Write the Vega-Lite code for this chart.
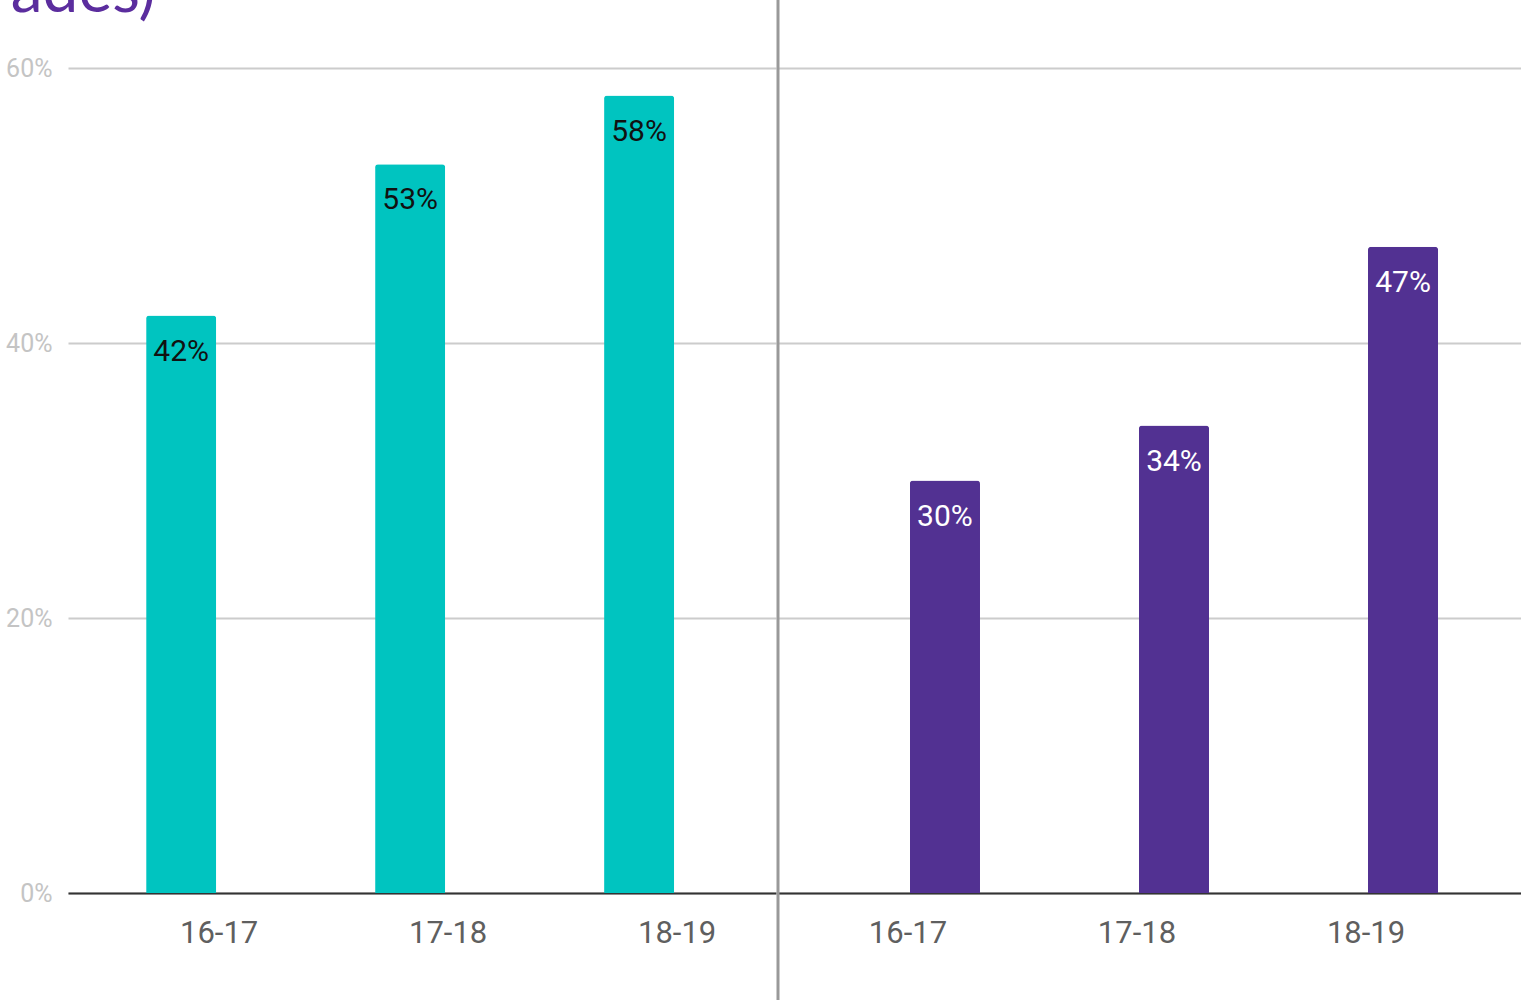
{
  "$schema": "https://vega.github.io/schema/vega-lite/v6.json",
  "padding": {"left": 5, "top": -40, "right": 0, "bottom": 0},
  "background": "white",
  "title": {"text": "ades)", "anchor": "start", "align": "right", "dx": 150, "fontSize": 64, "font": "Lato", "fontWeight": "normal", "color": "#5B2D9E", "offset": -41},
  "config": {
    "view": {"stroke": null},
    "font": "Roboto",
    "axis": {"gridColor": "#CCCCCC", "gridWidth": 2, "labelFont": "Roboto"}
  },
  "spacing": 0,
  "hconcat": [
    {
      "width": 708,
      "height": 825,
      "data": {"values": [
        {"year": "16-17", "value": 42, "label": "42%"},
        {"year": "17-18", "value": 53, "label": "53%"},
        {"year": "18-19", "value": 58, "label": "58%"}
      ]},
      "encoding": {
        "x": {"field": "year", "type": "nominal", "title": null,
          "scale": {"paddingInner": 0.694, "paddingOuter": 0.393, "align": 0.434},
          "axis": {"labelAngle": 0, "labelFontSize": 31, "labelColor": "#5F5F5F", "labelPadding": 25, "labelOffset": 38, "ticks": false, "domainColor": "#333333", "domainWidth": 2, "grid": false}},
        "y": {"field": "value", "type": "quantitative", "title": null,
          "scale": {"domain": [0, 60], "nice": false},
          "axis": {"values": [0, 20, 40, 60], "labelExpr": "datum.value + '%'", "labelFontSize": 25, "labelColor": "#C4C4C4", "labelPadding": 16, "ticks": false, "domain": false, "grid": true}}
      },
      "layer": [
        {"mark": {"type": "bar", "color": "#00C4C0", "cornerRadiusTopLeft": 3, "cornerRadiusTopRight": 3}},
        {"mark": {"type": "text", "baseline": "alphabetic", "dy": 45, "fontSize": 30, "color": "#111111"},
         "encoding": {"text": {"field": "label", "type": "nominal"}}}
      ]
    },
    {
      "width": 743,
      "height": 825,
      "layer": [
        {
          "data": {"values": [
            {"year": "16-17", "value": 30, "label": "30%"},
            {"year": "17-18", "value": 34, "label": "34%"},
            {"year": "18-19", "value": 47, "label": "47%"}
          ]},
          "encoding": {
            "x": {"field": "year", "type": "nominal", "title": null,
              "scale": {"paddingInner": 0.694, "paddingOuter": 0.469, "align": 0.614},
              "axis": {"labelAngle": 0, "labelFontSize": 31, "labelColor": "#5F5F5F", "labelPadding": 25, "labelOffset": -37, "ticks": false, "domainColor": "#333333", "domainWidth": 2, "grid": false}},
            "y": {"field": "value", "type": "quantitative", "title": null,
              "scale": {"domain": [0, 60], "nice": false},
              "axis": {"values": [0, 20, 40, 60], "labels": false, "ticks": false, "domain": false, "grid": true}}
          },
          "layer": [
            {"mark": {"type": "bar", "color": "#523192", "cornerRadiusTopLeft": 3, "cornerRadiusTopRight": 3}},
            {"mark": {"type": "text", "baseline": "alphabetic", "dy": 45, "fontSize": 30, "color": "#FFFFFF"},
             "encoding": {"text": {"field": "label", "type": "nominal"}}}
          ]
        },
        {
          "data": {"values": [{"pos": 0, "top": 66, "bottom": -9}]},
          "mark": {"type": "rule", "color": "#999999", "strokeWidth": 3},
          "encoding": {
            "x": {"field": "pos", "type": "quantitative", "scale": {"domain": [0, 1]}, "axis": null},
            "y": {"field": "top", "type": "quantitative"},
            "y2": {"field": "bottom"}
          }
        }
      ],
      "resolve": {"scale": {"x": "independent"}, "axis": {"x": "independent"}}
    }
  ]
}
